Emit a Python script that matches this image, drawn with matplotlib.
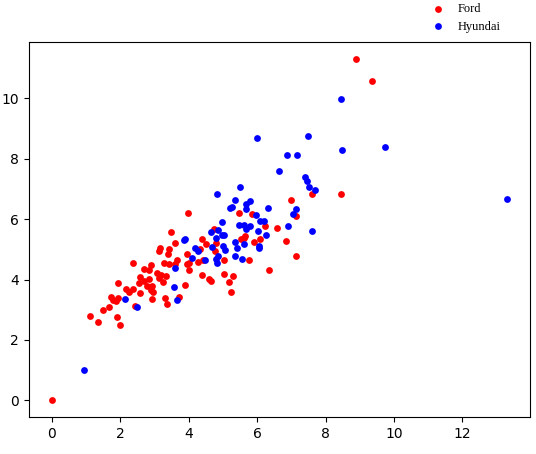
#!/usr/bin/env python3
"""
Scatter of Ford vs Hyundai values
"""

import matplotlib
matplotlib.use("Agg")
import matplotlib.pyplot as plt

# Ford points (red)
ford_x = [0.00, 8.89, 9.36, 7.61, 8.44, 6.98, 7.15, 5.47, 5.84, 6.23,
          6.57, 6.83, 6.09, 5.91, 5.64, 5.61, 5.54, 4.73, 4.39, 4.79,
          4.76, 5.02, 5.77, 7.14, 6.35, 4.39, 4.60, 4.64, 5.02, 5.29,
          5.18, 5.23, 3.99, 3.48, 3.60, 3.17, 3.12, 3.42, 3.41, 2.36,
          3.27, 3.43, 3.65, 3.61, 3.95, 4.01, 3.94, 4.27, 4.42, 4.00,
          2.69, 2.85, 2.89, 2.57, 2.54, 2.71, 2.77, 2.85, 2.92, 3.08,
          3.13, 3.20, 3.25, 3.35, 1.93, 2.18, 2.27, 2.38, 2.59, 2.89,
          2.96, 1.73, 1.78, 1.89, 1.95, 1.68, 1.49, 1.13, 1.35, 1.91,
          2.00, 2.42, 2.92, 3.30, 3.37, 3.71, 3.89, 4.52, 4.33]
ford_y = [0.00, 11.30, 10.57, 6.85, 6.84, 6.63, 6.09, 6.20, 6.17, 5.77,
          5.72, 5.29, 5.33, 5.25, 5.45, 5.36, 5.33, 5.69, 5.34, 5.21,
          4.93, 4.64, 4.63, 4.78, 4.32, 4.16, 4.03, 3.94, 4.19, 4.10,
          3.91, 3.59, 6.22, 5.59, 5.21, 5.06, 4.96, 5.01, 4.86, 4.55,
          4.55, 4.53, 4.64, 4.51, 4.84, 4.55, 4.51, 4.58, 4.63, 4.32,
          4.34, 4.31, 4.49, 4.09, 3.88, 3.95, 3.79, 4.01, 3.79, 4.23,
          4.06, 4.15, 3.93, 4.10, 3.90, 3.68, 3.60, 3.68, 3.56, 3.64,
          3.58, 3.42, 3.32, 3.29, 3.38, 3.10, 3.00, 2.80, 2.60, 2.76,
          2.48, 3.13, 3.37, 3.40, 3.20, 3.43, 3.82, 5.18, 5.02]

# Hyundai points (blue)
hyundai_x = [0.95, 2.13, 2.49, 3.57, 3.60, 3.65, 3.86, 3.90, 4.20, 4.26,
             4.09, 4.47, 4.82, 5.51, 5.36, 5.20, 5.27, 5.79, 5.67, 5.67,
             6.32, 7.13, 7.05, 5.96, 4.96, 5.46, 5.62, 5.79, 5.69, 6.08,
             6.19, 6.04, 6.90, 7.59, 6.26, 5.62, 6.05, 6.07, 5.35, 5.40,
             4.86, 4.96, 5.04, 4.65, 4.79, 4.67, 4.99, 5.06, 4.86, 4.80,
             4.82, 5.35, 5.56, 6.01, 7.48, 8.47, 6.87, 7.18, 6.63, 7.41,
             7.47, 7.51, 7.68, 8.44, 9.75, 13.31]
hyundai_y = [1.00, 3.36, 3.09, 3.75, 4.39, 3.32, 5.31, 5.34, 5.06, 4.93,
             4.71, 4.65, 6.85, 7.08, 6.63, 6.36, 6.40, 6.60, 6.50, 6.34,
             6.36, 6.34, 6.17, 6.14, 5.89, 5.81, 5.81, 5.77, 5.67, 5.95,
             5.95, 5.61, 5.79, 5.62, 5.48, 5.17, 5.11, 5.04, 5.25, 5.03,
             5.64, 5.49, 5.49, 5.57, 5.39, 5.07, 5.11, 4.97, 4.78, 4.69,
             4.54, 4.77, 4.68, 8.69, 8.76, 8.28, 8.12, 8.12, 7.61, 7.39,
             7.28, 7.08, 6.98, 9.97, 8.38, 6.67]


def main():
    fig = plt.figure(figsize=(5.36, 4.54), dpi=100)
    ax = fig.add_axes([0.054, 0.081, 0.935, 0.826])

    ax.scatter(ford_x, ford_y, s=24, c="red", linewidths=0, label="Ford")
    ax.scatter(hyundai_x, hyundai_y, s=24, c="blue", linewidths=0, label="Hyundai")

    ax.set_yticks([0, 2, 4, 6, 8, 10])
    ax.set_xticks([0, 2, 4, 6, 8, 10, 12])

    # legend sits above the axes, no frame
    fig.legend(loc="upper right", bbox_to_anchor=(0.955, 1.018), frameon=False,
               scatterpoints=1, prop={"family": "Liberation Serif", "size": 9},
               handletextpad=0.6, labelspacing=0.45)

    fig.savefig("out.png", dpi=100)


if __name__ == "__main__":
    main()
